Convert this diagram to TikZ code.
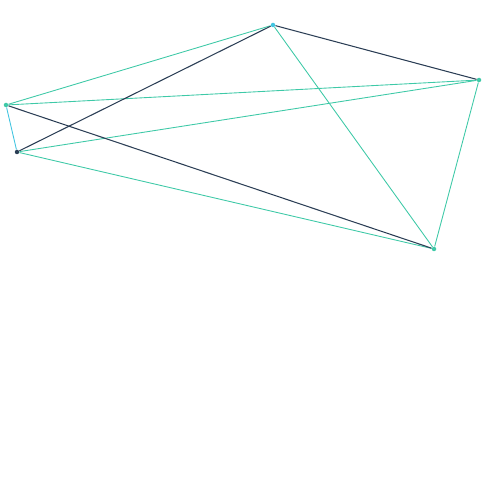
\documentclass[tikz,border=0pt]{standalone}
\usepackage{tikz}
\usetikzlibrary{arrows,calc}
\definecolor{navy}{HTML}{2B3E55}
\definecolor{teal}{HTML}{3EC9A7}
\definecolor{sky}{HTML}{41C4E0}
\tikzstyle{vertex}=[circle,fill=teal,inner sep=0pt,minimum size=0.09cm]
\tikzstyle{vertexd}=[circle,fill=navy,inner sep=0pt,minimum size=0.09cm]
\tikzstyle{vertexs}=[circle,fill=sky,inner sep=0pt,minimum size=0.09cm]
\tikzstyle{edged}=[navy,line width=0.6pt]
\tikzstyle{edget}=[teal,line width=0.5pt]
\tikzstyle{edges}=[sky,line width=0.5pt]

\begin{document}
\begin{tikzpicture}
	\useasboundingbox (0,0) rectangle (10,-10);

    \node[vertexs] (a) at (5.46,-0.5) {};
    \node[vertex] (b) at (9.58,-1.6) {};
    \node[vertex] (c) at (8.68,-4.98) {};
    \node[vertex] (d) at (0.12,-2.1) {};
    \node[vertexd] (e) at (0.34,-3.04) {};

    \draw[edget] (a) -- (d);
    \draw[edget] (a) -- (c);
    \draw[edget] (d) -- (b);
    \draw[edget] (e) -- (b);
    \draw[edget] (e) -- (c);
    \draw[edget] (b) -- (c);
    \draw[edges] (d) -- (e);

    \draw[edged] (a) -- (b);
    \draw[edged] (a) -- (e);
    \draw[edged] (d) -- (c);
\end{tikzpicture}
\end{document}
